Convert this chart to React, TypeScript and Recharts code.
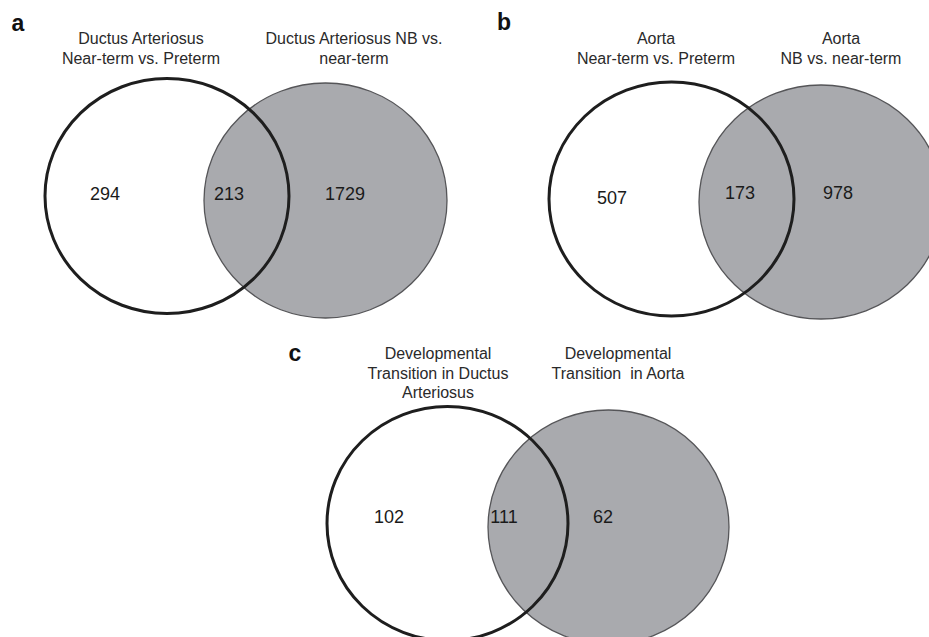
import { ScatterChart, Scatter, XAxis, YAxis } from "recharts";

// panel letters and the names of the two gene sets in each panel
const panelLetters = ["a", "b", "c"];
const leftSetNames = [
  ["Ductus Arteriosus", "Near-term vs. Preterm"],
  ["Aorta", "Near-term vs. Preterm"],
  ["Developmental", "Transition in Ductus", "Arteriosus"],
];
const rightSetNames = [
  ["Ductus Arteriosus NB vs.", "near-term"],
  ["Aorta", "NB vs. near-term"],
  ["Developmental", "Transition  in Aorta"],
];

// gene counts per region
const leftOnly = [294, 507, 102];
const shared = [213, 173, 111];
const rightOnly = [1729, 978, 62];

const W = 929;
const H = 637;
const FONT = "'Liberation Sans', Arial, Helvetica, sans-serif";
const PX = W / W; // chart units -> pixels (domain spans the full plot)

// where each panel sits, in chart units
const layout = [
  {
    letter: [18, 23],
    leftTitle: [141, 38],
    rightTitle: [354, 38],
    left: { cx: 167, cy: 196, rx: 122, ry: 117.5 },
    right: { cx: 325.5, cy: 200.5, rx: 121.5, ry: 117.5 },
    nums: [[105, 194], [229, 194], [345, 194]],
  },
  {
    letter: [504, 22],
    leftTitle: [656, 38],
    rightTitle: [841, 38],
    left: { cx: 671.5, cy: 199, rx: 122.5, ry: 117 },
    right: { cx: 821, cy: 202, rx: 122, ry: 117 },
    nums: [[612, 198], [740, 193], [838, 193]],
  },
  {
    letter: [295, 353],
    leftTitle: [438, 353],
    rightTitle: [618, 353],
    left: { cx: 447.5, cy: 523.5, rx: 120.5, ry: 117 },
    right: { cx: 608.5, cy: 527, rx: 120.5, ry: 117 },
    nums: [[389, 517], [504, 517], [603, 517]],
  },
];

const greyData = layout.map((p) => ({ x: p.right.cx, y: p.right.cy, rx: p.right.rx, ry: p.right.ry }));
const outlineData = layout.map((p) => ({ x: p.left.cx, y: p.left.cy, rx: p.left.rx, ry: p.left.ry }));
const countData = layout.flatMap((p, i) =>
  [leftOnly[i], shared[i], rightOnly[i]].map((v, k) => ({ x: p.nums[k][0], y: p.nums[k][1], label: String(v) }))
);
const titleData = layout.flatMap((p, i) => [
  { x: p.leftTitle[0], y: p.leftTitle[1], lines: leftSetNames[i] },
  { x: p.rightTitle[0], y: p.rightTitle[1], lines: rightSetNames[i] },
]);
const letterData = layout.map((p, i) => ({ x: p.letter[0], y: p.letter[1], label: panelLetters[i] }));

const GreyCircle = (props: any) => (
  <ellipse
    cx={props.cx}
    cy={props.cy}
    rx={props.payload.rx * PX}
    ry={props.payload.ry * PX}
    fill="#a9aaae"
    stroke="#555558"
    strokeWidth={1.3}
  />
);

const OutlineCircle = (props: any) => (
  <ellipse
    cx={props.cx}
    cy={props.cy}
    rx={props.payload.rx * PX}
    ry={props.payload.ry * PX}
    fill="none"
    stroke="#1e1e1e"
    strokeWidth={3}
  />
);

const CountText = (props: any) => (
  <text
    x={props.cx}
    y={props.cy}
    textAnchor="middle"
    dominantBaseline="central"
    fontFamily={FONT}
    fontSize={18}
    fill="#1a1a1a"
  >
    {props.payload.label}
  </text>
);

const TitleText = (props: any) => (
  <text
    x={props.cx}
    y={props.cy}
    textAnchor="middle"
    dominantBaseline="central"
    fontFamily={FONT}
    fontSize={16}
    fill="#2a2a2a"
    style={{ whiteSpace: "pre" }}
  >
    {props.payload.lines.map((line: string, i: number) => (
      <tspan key={i} x={props.cx} dy={i === 0 ? 0 : 19.5}>
        {line}
      </tspan>
    ))}
  </text>
);

const LetterText = (props: any) => (
  <text
    x={props.cx}
    y={props.cy}
    textAnchor="middle"
    dominantBaseline="central"
    fontFamily={FONT}
    fontSize={23}
    fontWeight="bold"
    fill="#111"
  >
    {props.payload.label}
  </text>
);

export default function App() {
  return (
    <div style={{ width: W, height: H, background: "#fff" }}>
      <style>{"body{margin:0;overflow:hidden}"}</style>
      <ScatterChart width={W} height={H} margin={{ top: 0, right: 0, bottom: 0, left: 0 }}>
        <XAxis type="number" dataKey="x" domain={[0, W]} hide />
        <YAxis type="number" dataKey="y" domain={[0, H]} reversed hide />
        <Scatter data={greyData} shape={GreyCircle} isAnimationActive={false} />
        <Scatter data={outlineData} shape={OutlineCircle} isAnimationActive={false} />
        <Scatter data={countData} shape={CountText} isAnimationActive={false} />
        <Scatter data={titleData} shape={TitleText} isAnimationActive={false} />
        <Scatter data={letterData} shape={LetterText} isAnimationActive={false} />
      </ScatterChart>
    </div>
  );
}
